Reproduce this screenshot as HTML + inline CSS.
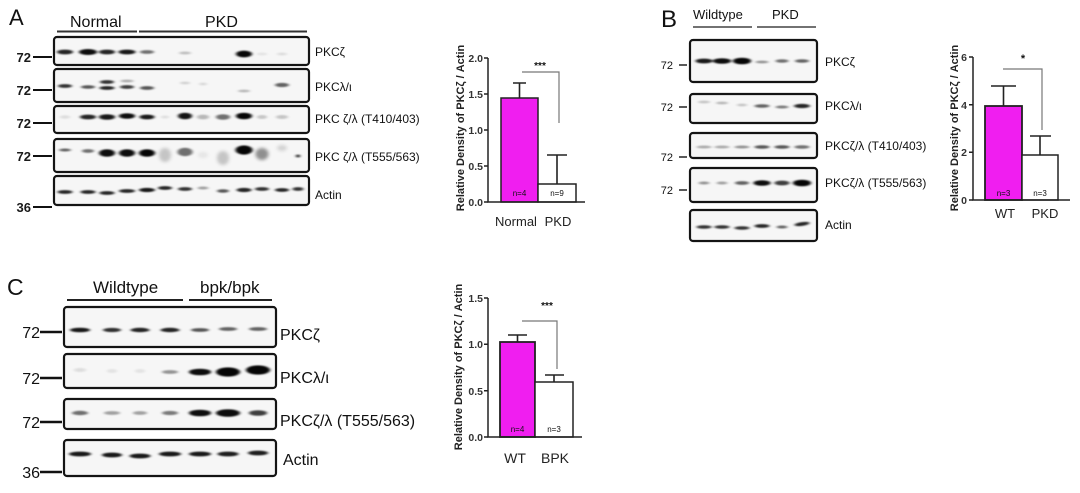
<!DOCTYPE html>
<html><head><meta charset="utf-8"><style>
html,body{margin:0;padding:0;background:#fff;}
svg{display:block;}
text{font-family:"Liberation Sans",Arial,sans-serif;fill:#111;}
.bx{fill:#f6f6f6;stroke:#141414;stroke-width:2.2;}
.tk{font-size:13px;font-weight:bold;text-anchor:end;fill:#1a1a1a;}
.lbA{font-size:12px;}
.ax{stroke:#222;stroke-width:1.5;fill:none;}
.tl{font-size:10.5px;font-weight:bold;text-anchor:end;fill:#333;}
.yl{font-size:11px;font-weight:bold;text-anchor:middle;fill:#222;}
.br{stroke:#777;stroke-width:1.2;fill:none;}
.eb{stroke:#222;stroke-width:1.6;fill:none;}
.n{font-size:8px;text-anchor:middle;}
.xl{text-anchor:middle;fill:#222;}
g.bd ellipse{fill:#000;}
</style></head><body>
<svg width="1080" height="493" viewBox="0 0 1080 493" xmlns="http://www.w3.org/2000/svg">
<defs>
<filter id="f" x="-60%" y="-150%" width="220%" height="400%"><feGaussianBlur stdDeviation="1.6 0.8"/></filter>
<filter id="f2" x="-60%" y="-150%" width="220%" height="400%"><feGaussianBlur stdDeviation="1.8 1.6"/></filter>
</defs>
<rect width="1080" height="493" fill="#fff"/>

<!-- ============ PANEL A ============ -->
<text x="9" y="25" font-size="22">A</text>
<text x="70" y="27" font-size="16">Normal</text>
<text x="205" y="27" font-size="16">PKD</text>
<line x1="57" y1="31.5" x2="137" y2="31.5" stroke="#333" stroke-width="2"/>
<line x1="139" y1="31.5" x2="307" y2="31.5" stroke="#333" stroke-width="2"/>

<rect class="bx" x="54" y="37" width="255" height="28" rx="3"/>
<rect class="bx" x="54" y="69" width="255" height="33" rx="3"/>
<rect class="bx" x="54" y="106" width="255" height="27" rx="3"/>
<rect class="bx" x="54" y="139" width="255" height="33" rx="3"/>
<rect class="bx" x="54" y="176" width="255" height="29" rx="3"/>

<g class="bd" filter="url(#f)">
<!-- row1 -->
<ellipse cx="65" cy="52" rx="8" ry="2.4" opacity=".85"/>
<ellipse cx="88" cy="52" rx="9" ry="3" opacity=".95"/>
<ellipse cx="107" cy="52" rx="8" ry="2.4" opacity=".85"/>
<ellipse cx="127" cy="52" rx="8.5" ry="2.4" opacity=".9"/>
<ellipse cx="147" cy="52" rx="7" ry="1.9" opacity=".55"/>
<ellipse cx="185" cy="53" rx="6" ry="1.5" opacity=".22"/>
<ellipse cx="244" cy="54" rx="8" ry="3.4" opacity=".97"/>
<ellipse cx="262" cy="54" rx="5" ry="1.5" opacity=".08"/>
<ellipse cx="282" cy="54" rx="5" ry="1.5" opacity=".1"/>
<!-- row2 -->
<ellipse cx="65" cy="86" rx="7" ry="1.9" opacity=".8"/>
<ellipse cx="88" cy="87" rx="7" ry="1.7" opacity=".65"/>
<ellipse cx="107" cy="82" rx="7" ry="1.9" opacity=".8"/>
<ellipse cx="107" cy="88" rx="7.5" ry="1.9" opacity=".85"/>
<ellipse cx="127" cy="81" rx="6.5" ry="1.4" opacity=".3"/>
<ellipse cx="127" cy="87" rx="7" ry="1.9" opacity=".75"/>
<ellipse cx="147" cy="88" rx="7" ry="1.9" opacity=".65"/>
<ellipse cx="185" cy="83" rx="5" ry="1.4" opacity=".15"/>
<ellipse cx="203" cy="84" rx="4" ry="1.4" opacity=".12"/>
<ellipse cx="244" cy="91" rx="6" ry="1.4" opacity=".25"/>
<ellipse cx="282" cy="85" rx="7" ry="2.1" opacity=".6"/>
<!-- row3 -->
<ellipse cx="65" cy="117" rx="5" ry="1.8" opacity=".1"/>
<ellipse cx="88" cy="117" rx="8" ry="2.4" opacity=".85"/>
<ellipse cx="107" cy="117" rx="8" ry="2.8" opacity=".9"/>
<ellipse cx="127" cy="116" rx="8" ry="2.8" opacity=".95"/>
<ellipse cx="147" cy="117" rx="7.5" ry="2.4" opacity=".9"/>
<ellipse cx="165" cy="117" rx="4" ry="1.5" opacity=".1"/>
<ellipse cx="185" cy="116" rx="7" ry="3.3" opacity=".92"/>
<ellipse cx="203" cy="117" rx="6" ry="2.4" opacity=".25"/>
<ellipse cx="223" cy="117" rx="7" ry="2.8" opacity=".55"/>
<ellipse cx="244" cy="116" rx="8" ry="3.3" opacity=".98"/>
<ellipse cx="262" cy="117" rx="5" ry="2" opacity=".2"/>
<ellipse cx="282" cy="117" rx="6" ry="2" opacity=".2"/>
<!-- row4 -->
<ellipse cx="65" cy="150" rx="6" ry="1.5" opacity=".6"/>
<ellipse cx="88" cy="151" rx="6" ry="1.9" opacity=".55"/>
<ellipse cx="107" cy="153" rx="8" ry="3.8" opacity=".95"/>
<ellipse cx="127" cy="153" rx="8" ry="3.8" opacity=".95"/>
<ellipse cx="147" cy="153" rx="8" ry="3.8" opacity=".98"/>
<ellipse cx="244" cy="150" rx="8.5" ry="4.6" opacity=".98"/>
<ellipse cx="185" cy="152" rx="7.5" ry="4.2" opacity=".55"/>
<ellipse cx="298" cy="156" rx="2" ry="1.5" opacity=".9"/>
<!-- row5 actin -->
<ellipse cx="65" cy="192" rx="7.5" ry="1.9" opacity=".85"/>
<ellipse cx="88" cy="192" rx="7.5" ry="1.9" opacity=".85"/>
<ellipse cx="107" cy="193" rx="7.5" ry="1.9" opacity=".85"/>
<ellipse cx="127" cy="191" rx="8" ry="1.9" opacity=".85"/>
<ellipse cx="147" cy="190" rx="8" ry="2.1" opacity=".9"/>
<ellipse cx="165" cy="188" rx="7" ry="1.9" opacity=".85"/>
<ellipse cx="185" cy="189" rx="7" ry="1.9" opacity=".8"/>
<ellipse cx="203" cy="188" rx="5.5" ry="1.5" opacity=".35"/>
<ellipse cx="223" cy="191" rx="6" ry="1.7" opacity=".65"/>
<ellipse cx="244" cy="190" rx="7.5" ry="2.1" opacity=".85"/>
<ellipse cx="262" cy="189" rx="7" ry="1.9" opacity=".8"/>
<ellipse cx="282" cy="190" rx="7" ry="1.9" opacity=".85"/>
<ellipse cx="298" cy="189" rx="5.5" ry="1.9" opacity=".8"/>
</g>
<g class="bd" filter="url(#f2)">
<ellipse cx="165" cy="155" rx="6" ry="7" opacity=".2"/>
<ellipse cx="203" cy="155" rx="5" ry="3" opacity=".07"/>
<ellipse cx="223" cy="158" rx="6" ry="7" opacity=".2"/>
<ellipse cx="262" cy="154" rx="6.5" ry="6" opacity=".42"/>
<ellipse cx="282" cy="148" rx="5" ry="3" opacity=".15"/>
</g>

<text class="tk" x="31" y="62">72</text>
<text class="tk" x="31" y="95">72</text>
<text class="tk" x="31" y="128">72</text>
<text class="tk" x="31" y="161">72</text>
<text class="tk" x="31" y="212">36</text>
<g stroke="#111" stroke-width="2">
<line x1="33" y1="57" x2="52" y2="57"/><line x1="33" y1="90" x2="52" y2="90"/>
<line x1="33" y1="123" x2="52" y2="123"/><line x1="33" y1="156" x2="52" y2="156"/>
<line x1="33" y1="207" x2="52" y2="207"/>
</g>
<text class="lbA" x="315" y="56">PKCζ</text>
<text class="lbA" x="315" y="91" font-size="11">PKCλ/ι</text>
<text class="lbA" x="315" y="123">PKC ζ/λ (T410/403)</text>
<text class="lbA" x="315" y="161">PKC ζ/λ (T555/563)</text>
<text class="lbA" x="315" y="199">Actin</text>

<!-- A chart -->
<rect x="501" y="98" width="37" height="104" fill="#f01ef0" stroke="#222" stroke-width="1.5"/>
<rect x="538" y="184" width="38" height="18" fill="#fff" stroke="#222" stroke-width="1.5"/>
<path class="eb" d="M519.5 98V83M513 83H526"/>
<path class="eb" d="M557 184V155M547 155H567"/>
<path class="br" d="M522 72H559V123"/>
<text x="540" y="69" font-size="10" font-weight="bold" text-anchor="middle">***</text>
<text class="n" x="519.5" y="196" fill="#5a1a5a">n=4</text>
<text class="n" x="557" y="196" fill="#333">n=9</text>
<path class="ax" d="M488 58V202H585"/>
<path class="ax" d="M484 58H488M484 94H488M484 130H488M484 166H488M484 202H488"/>
<text class="tl" x="483" y="62">2.0</text>
<text class="tl" x="483" y="98">1.5</text>
<text class="tl" x="483" y="134">1.0</text>
<text class="tl" x="483" y="170">0.5</text>
<text class="tl" x="483" y="206">0.0</text>
<text class="yl" transform="translate(464,128) rotate(-90)">Relative Density of PKCζ / Actin</text>
<text class="xl" x="516" y="226" font-size="13">Normal</text>
<text class="xl" x="558" y="226" font-size="13">PKD</text>

<!-- ============ PANEL B ============ -->
<text x="661" y="27" font-size="24">B</text>
<text x="693" y="19" font-size="13">Wildtype</text>
<text x="772" y="19" font-size="13">PKD</text>
<line x1="693" y1="27" x2="752" y2="27" stroke="#444" stroke-width="1.5"/>
<line x1="757" y1="27" x2="816" y2="27" stroke="#444" stroke-width="1.5"/>

<rect class="bx" x="690" y="40" width="127" height="42" rx="3"/>
<rect class="bx" x="690" y="94" width="127" height="29" rx="3"/>
<rect class="bx" x="690" y="133" width="127" height="25" rx="3"/>
<rect class="bx" x="690" y="168" width="127" height="34" rx="3"/>
<rect class="bx" x="690" y="210" width="127" height="31" rx="3"/>
<g class="bd" filter="url(#f)">
<ellipse cx="704" cy="61" rx="8.5" ry="2.4" opacity=".9"/>
<ellipse cx="722" cy="61" rx="9" ry="2.8" opacity=".95"/>
<ellipse cx="742" cy="61" rx="9" ry="3.3" opacity=".98"/>
<ellipse cx="762" cy="62" rx="6.5" ry="1.4" opacity=".4"/>
<ellipse cx="782" cy="61" rx="6.5" ry="1.7" opacity=".55"/>
<ellipse cx="802" cy="61" rx="7" ry="1.7" opacity=".6"/>

<ellipse cx="704" cy="102" rx="6" ry="1.4" opacity=".2"/>
<ellipse cx="722" cy="103" rx="6" ry="1.4" opacity=".25"/>
<ellipse cx="742" cy="105" rx="5" ry="1.4" opacity=".2"/>
<ellipse cx="762" cy="106" rx="7.5" ry="1.7" opacity=".6"/>
<ellipse cx="782" cy="107" rx="6.5" ry="1.5" opacity=".5"/>
<ellipse cx="802" cy="106" rx="8" ry="2.1" opacity=".85"/>

<ellipse cx="704" cy="147" rx="7.5" ry="1.5" opacity=".3"/>
<ellipse cx="722" cy="147" rx="7.5" ry="1.5" opacity=".3"/>
<ellipse cx="742" cy="147" rx="7.5" ry="1.5" opacity=".4"/>
<ellipse cx="762" cy="147" rx="7.5" ry="1.7" opacity=".65"/>
<ellipse cx="782" cy="147" rx="7.5" ry="1.7" opacity=".65"/>
<ellipse cx="802" cy="147" rx="7.5" ry="1.7" opacity=".55"/>

<ellipse cx="704" cy="183" rx="5.5" ry="1.5" opacity=".4"/>
<ellipse cx="722" cy="183" rx="5.5" ry="1.5" opacity=".35"/>
<ellipse cx="742" cy="183" rx="7" ry="1.9" opacity=".6"/>
<ellipse cx="762" cy="183" rx="8.5" ry="2.8" opacity=".95"/>
<ellipse cx="782" cy="183" rx="7.5" ry="2.4" opacity=".75"/>
<ellipse cx="802" cy="183" rx="9" ry="3.3" opacity=".98"/>

<ellipse cx="704" cy="227" rx="7.5" ry="1.7" opacity=".8"/>
<ellipse cx="722" cy="227" rx="7.5" ry="1.7" opacity=".8"/>
<ellipse cx="742" cy="228" rx="7.5" ry="1.7" opacity=".8"/>
<ellipse cx="762" cy="226" rx="7.5" ry="1.9" opacity=".85"/>
<ellipse cx="782" cy="227" rx="5.5" ry="1.5" opacity=".6"/>
<ellipse cx="802" cy="224" rx="7.5" ry="1.9" opacity=".85" transform="rotate(-8 802 224)"/>
</g>
<g font-size="11" text-anchor="end" fill="#222">
<text x="673" y="69">72</text><text x="673" y="111">72</text>
<text x="673" y="161">72</text><text x="673" y="194">72</text>
</g>
<g stroke="#222" stroke-width="1.5">
<line x1="679" y1="65" x2="687" y2="65"/><line x1="679" y1="107" x2="687" y2="107"/>
<line x1="679" y1="157" x2="687" y2="157"/><line x1="679" y1="190" x2="687" y2="190"/>
</g>
<g font-size="12">
<text x="825" y="66">PKCζ</text>
<text x="825" y="110">PKCλ/ι</text>
<text x="825" y="150">PKCζ/λ (T410/403)</text>
<text x="825" y="187">PKCζ/λ (T555/563)</text>
<text x="825" y="229">Actin</text>
</g>

<!-- B chart -->
<rect x="985" y="106" width="37" height="94" fill="#f01ef0" stroke="#222" stroke-width="1.8"/>
<rect x="1022" y="155" width="36" height="45" fill="#fff" stroke="#222" stroke-width="1.5"/>
<path class="eb" d="M1003.5 106V86M991 86H1016"/>
<path class="eb" d="M1040 155V136M1030 136H1051"/>
<path class="br" d="M1003 69H1042V130"/>
<text x="1023" y="62" font-size="11" font-weight="bold" text-anchor="middle">*</text>
<text class="n" x="1003.5" y="196" fill="#5a1a5a">n=3</text>
<text class="n" x="1040" y="196" fill="#333">n=3</text>
<path class="ax" d="M973 57V200H1070"/>
<path class="ax" d="M969 57H973M969 104.7H973M969 152.3H973M969 200H973"/>
<text class="tl" x="967" y="61">6</text>
<text class="tl" x="967" y="109">4</text>
<text class="tl" x="967" y="156">2</text>
<text class="tl" x="967" y="204">0</text>
<text class="yl" font-size="11.5" transform="translate(958,128) rotate(-90)">Relative Density of PKCζ / Actin</text>
<text class="xl" x="1005" y="218" font-size="13">WT</text>
<text class="xl" x="1045" y="218" font-size="13">PKD</text>

<!-- ============ PANEL C ============ -->
<text x="7" y="295" font-size="23">C</text>
<text x="93" y="293" font-size="17">Wildtype</text>
<text x="200" y="293" font-size="17">bpk/bpk</text>
<line x1="67" y1="300" x2="183" y2="300" stroke="#222" stroke-width="2"/>
<line x1="189" y1="300" x2="272" y2="300" stroke="#222" stroke-width="2"/>

<rect class="bx" x="64" y="307" width="212" height="40" rx="3"/>
<rect class="bx" x="64" y="354" width="212" height="34" rx="3"/>
<rect class="bx" x="64" y="399" width="212" height="30" rx="3"/>
<rect class="bx" x="64" y="440" width="212" height="36" rx="3"/>
<g class="bd" filter="url(#f)">
<ellipse cx="80" cy="330" rx="10" ry="2.3" opacity=".9"/>
<ellipse cx="112" cy="330" rx="9" ry="2.1" opacity=".8"/>
<ellipse cx="140" cy="330" rx="9.5" ry="2.2" opacity=".85"/>
<ellipse cx="170" cy="330" rx="9.5" ry="2.2" opacity=".85"/>
<ellipse cx="200" cy="330" rx="9" ry="1.9" opacity=".65"/>
<ellipse cx="228" cy="329" rx="9" ry="1.9" opacity=".6"/>
<ellipse cx="258" cy="329" rx="9" ry="1.9" opacity=".6"/>

<ellipse cx="80" cy="370" rx="6" ry="2" opacity=".1"/>
<ellipse cx="112" cy="371" rx="5" ry="2" opacity=".08"/>
<ellipse cx="140" cy="371" rx="5" ry="2" opacity=".08"/>
<ellipse cx="170" cy="372" rx="8" ry="1.9" opacity=".4"/>
<ellipse cx="200" cy="372" rx="11" ry="3.3" opacity=".95"/>
<ellipse cx="228" cy="372" rx="12" ry="4.6" opacity=".98"/>
<ellipse cx="258" cy="370" rx="12" ry="4.6" opacity=".98"/>

<ellipse cx="80" cy="413" rx="8" ry="2.2" opacity=".55"/>
<ellipse cx="112" cy="413" rx="8" ry="1.9" opacity=".35"/>
<ellipse cx="140" cy="413" rx="7" ry="1.9" opacity=".35"/>
<ellipse cx="170" cy="413" rx="8" ry="2.1" opacity=".5"/>
<ellipse cx="200" cy="413" rx="11" ry="3.3" opacity=".95"/>
<ellipse cx="228" cy="413" rx="12" ry="3.8" opacity=".95"/>
<ellipse cx="258" cy="413" rx="9" ry="2.8" opacity=".75"/>

<ellipse cx="80" cy="454" rx="11" ry="2.4" opacity=".9"/>
<ellipse cx="112" cy="455" rx="10" ry="2.4" opacity=".9"/>
<ellipse cx="140" cy="456" rx="10.5" ry="2.4" opacity=".9"/>
<ellipse cx="170" cy="454" rx="11" ry="2.4" opacity=".9"/>
<ellipse cx="200" cy="454" rx="11" ry="2.4" opacity=".9"/>
<ellipse cx="228" cy="454" rx="10.5" ry="2.4" opacity=".88"/>
<ellipse cx="258" cy="453" rx="10" ry="2.4" opacity=".88"/>
</g>
<g font-size="16" text-anchor="end" fill="#1a1a1a">
<text x="40" y="338">72</text><text x="40" y="384">72</text>
<text x="40" y="428">72</text><text x="40" y="478">36</text>
</g>
<g stroke="#111" stroke-width="2.4">
<line x1="40" y1="332" x2="62" y2="332"/><line x1="40" y1="378" x2="62" y2="378"/>
<line x1="40" y1="422" x2="62" y2="422"/><line x1="40" y1="472" x2="62" y2="472"/>
</g>
<g font-size="16">
<text x="280" y="340">PKCζ</text>
<text x="280" y="383">PKCλ/ι</text>
<text x="280" y="426">PKCζ/λ (T555/563)</text>
<text x="283" y="465">Actin</text>
</g>

<!-- C chart -->
<rect x="500" y="342" width="35" height="95" fill="#f01ef0" stroke="#222" stroke-width="1.8"/>
<rect x="535" y="382" width="38" height="55" fill="#fff" stroke="#222" stroke-width="1.5"/>
<path class="eb" d="M517.5 342V335M508 335H527"/>
<path class="eb" d="M554 382V375M545 375H564"/>
<path class="br" d="M522 321H557V369"/>
<text x="547" y="309" font-size="10" font-weight="bold" text-anchor="middle">***</text>
<text class="n" x="517.5" y="432" fill="#5a1a5a">n=4</text>
<text class="n" x="554" y="432" fill="#333">n=3</text>
<path class="ax" d="M488 298V437H582"/>
<path class="ax" d="M484 298H488M484 344.3H488M484 390.7H488M484 437H488"/>
<text class="tl" x="483" y="302">1.5</text>
<text class="tl" x="483" y="348">1.0</text>
<text class="tl" x="483" y="395">0.5</text>
<text class="tl" x="483" y="441">0.0</text>
<text class="yl" transform="translate(462,367) rotate(-90)">Relative Density of PKCζ / Actin</text>
<text class="xl" x="515" y="463" font-size="14">WT</text>
<text class="xl" x="555" y="463" font-size="14">BPK</text>
</svg>
</body></html>
